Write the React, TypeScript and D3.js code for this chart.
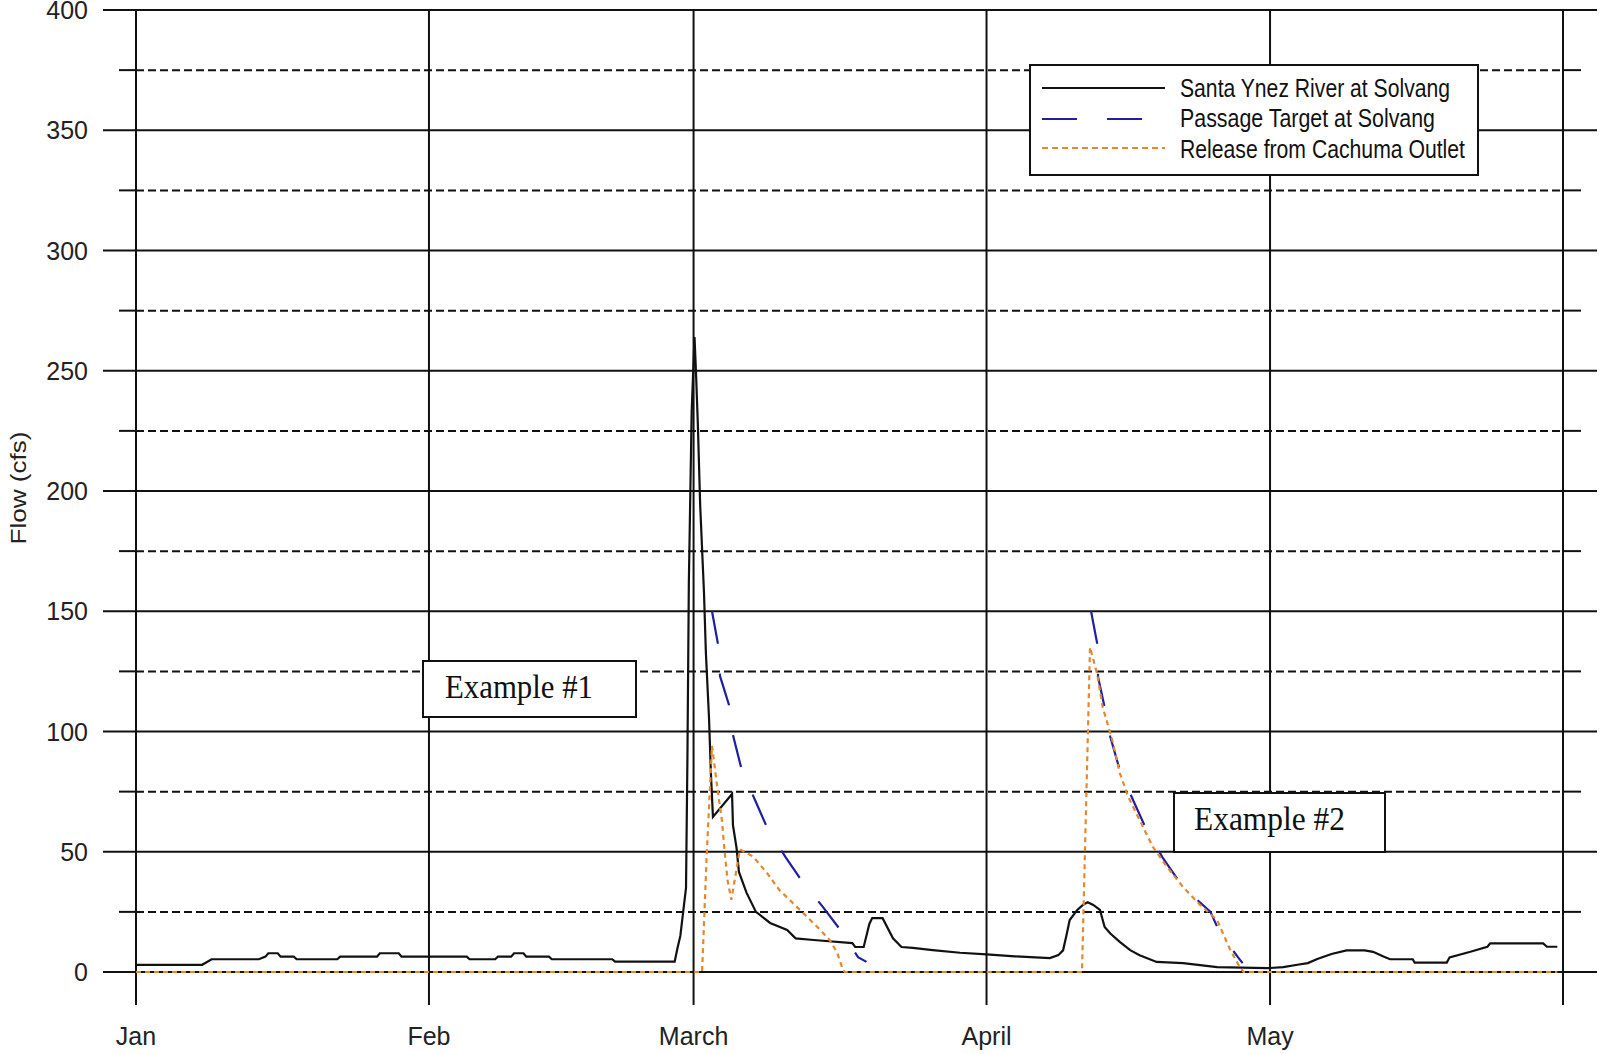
import React from 'react';
import * as d3 from 'd3';

// ---- data (day offsets from Jan 1, values in cfs) ----
const monthLabels = ['Jan', 'Feb', 'March', 'April', 'May'];
const majorTicks = [0, 50, 100, 150, 200, 250, 300, 350, 400];
const minorTicks = [25, 75, 125, 175, 225, 275, 325, 375];

const flowDays = [0, 7, 8, 13, 13.7, 14, 15, 15.3, 16.7, 17, 21.3, 21.6, 25.5, 25.8, 27.8, 28.1, 35, 35.3, 38, 38.3, 39.7, 40, 41, 41.3, 43.7, 44, 50.4, 50.7, 57.0, 57.3, 57.6, 57.9, 58.2, 58.35, 58.5, 58.8, 59.1, 59.25, 59.45, 59.7, 60.1, 60.3, 60.63, 60.84, 61.05, 63.07, 63.17, 63.55, 63.8, 64.6, 65.6, 67.1, 68.9, 69.8, 71.7, 75.8, 76.1, 77.0, 77.6, 77.9, 79.0, 80.1, 81.0, 82.2, 84.3, 87.2, 90, 93, 96.7, 97.6, 98.1, 98.5, 98.8, 99.6, 100.2, 100.7, 101.3, 102.0, 102.5, 103.1, 104.1, 105.2, 106.2, 108.0, 110.8, 114.4, 119.7, 121.4, 122.9, 124.0, 125.0, 126.5, 128.1, 130.0, 130.9, 132.0, 132.7, 135.1, 135.3, 138.7, 139.0, 141.2, 143.0, 143.3, 148.9, 149.3, 150.4];
const flowValues = [3, 3, 5.3, 5.3, 6.4, 7.8, 7.8, 6.4, 6.4, 5.3, 5.3, 6.4, 6.4, 7.8, 7.8, 6.4, 6.4, 5.3, 5.3, 6.4, 6.4, 7.8, 7.8, 6.4, 6.4, 5.3, 5.3, 4.3, 4.3, 10, 15, 25, 35, 89, 162, 233, 264, 250, 228, 194, 158, 133, 106, 82, 64.5, 74, 61, 51.5, 41.6, 33, 25, 20.4, 17.5, 14, 13.3, 12, 10.4, 10.4, 20, 22.4, 22.4, 14, 10.4, 10, 9.1, 8, 7.3, 6.5, 5.8, 7, 9, 16, 21.6, 25.8, 27.9, 29, 27.9, 25.8, 18.7, 16, 12.5, 9.1, 7, 4.2, 3.7, 2, 1.6, 2, 3, 3.7, 5.4, 7.5, 9, 9, 8.4, 6.4, 5.3, 5.3, 3.9, 3.9, 6.1, 8.4, 10.5, 11.9, 11.9, 10.5, 10.5];

const targetDays1 = [60.95, 61.6, 61.8, 62.75, 63.2, 64.1, 65.5, 66.9, 68.7, 70.6, 72.7, 74.7, 76.4, 77.3];
const targetValues1 = [150, 136, 123, 111, 98, 84, 71.5, 59, 48, 37, 27, 16.6, 6.2, 4.2];
const targetDays2 = [101.06, 101.7, 101.8, 102.5, 103.1, 104.1, 105.5, 106.8, 108.6, 110.8, 113.7, 114.7, 116.6, 117.1];
const targetValues2 = [150, 136.8, 122.7, 110, 97.7, 84, 71.5, 60.3, 47.8, 35.3, 25, 16.2, 6.2, 3.7];

const releaseDays = [0, 59.9, 60.4, 60.95, 61.5, 62.0, 62.3, 62.6, 63.0, 63.9, 65.3, 66.8, 68.1, 69.5, 71.0, 72.4, 73.4, 74.2, 74.8, 75.0, 100.1, 100.95, 101.7, 102.3, 103.3, 104.1, 105.0, 106.2, 107.6, 109.1, 110.8, 112.6, 114.4, 115.8, 116.8, 117.2, 150.4];
const releaseValues = [0, 0, 49.5, 94, 77, 63, 49.5, 38, 30, 51, 48, 41, 34, 28.7, 23, 17.5, 13.3, 8, 1, 0, 0, 135, 124, 110, 96.5, 82.7, 72.8, 63.2, 52, 43.7, 35.3, 27.9, 21.6, 9.1, 2, 0, 0];

const seriesNames = ['Santa Ynez River at Solvang', 'Passage Target at Solvang', 'Release from Cachuma Outlet'];
const exampleLabels = ['Example #1', 'Example #2'];

const BLACK = '#111';
const BLUE = '#1f1fa0';
const ORANGE = '#e4882f';

export default function App() {
  const W = 1600;
  const H = 1054;
  const t0 = Date.UTC(2001, 0, 1);
  const toDate = (d: number) => new Date(t0 + d * 86400000);
  const x = d3.scaleUtc().domain([toDate(0), new Date(Date.UTC(2001, 5, 1))]).range([136, 1563]);
  const y = d3.scaleLinear().domain([0, 400]).range([972, 10]);
  const [x0, x1] = x.range();
  const yTop = y(400);
  const yBot = y(0);
  const months = x.ticks(d3.utcMonth.every(1) as any);

  const line = d3
    .line<[number, number]>()
    .x((p) => x(toDate(p[0])))
    .y((p) => y(p[1]));
  const zip = (a: number[], b: number[]) => a.map((d, i) => [d, b[i]] as [number, number]);

  const axisFont = "'Liberation Sans', Arial, sans-serif";
  const serifFont = "'Liberation Serif', 'Times New Roman', serif";

  return (
    <svg
      width={W}
      height={H}
      style={{ position: 'absolute', left: 0, top: 0, background: '#fff' }}
    >
      <rect x={0} y={0} width={W} height={H} fill="#fff" />
      {/* minor dashed gridlines */}
      {minorTicks.map((v) => (
        <g key={'mn' + v}>
          <line x1={x0} x2={x1} y1={y(v)} y2={y(v)} stroke={BLACK} strokeWidth={2} strokeDasharray="8,4" />
          <line x1={x0 - 17} x2={x0} y1={y(v)} y2={y(v)} stroke={BLACK} strokeWidth={2} />
          <line x1={x1} x2={x1 + 18} y1={y(v)} y2={y(v)} stroke={BLACK} strokeWidth={2} />
        </g>
      ))}
      {/* major gridlines */}
      {majorTicks.map((v) => (
        <g key={'mj' + v}>
          <line x1={x0 - 33} x2={x1 + 34} y1={y(v)} y2={y(v)} stroke={BLACK} strokeWidth={2} />
          <text
            x={88}
            y={y(v)}
            dy="0.36em"
            textAnchor="end"
            fontFamily={axisFont}
            fontSize={25}
            fill="#222"
          >
            {v}
          </text>
        </g>
      ))}
      {/* vertical month lines */}
      {months.map((m, i) => (
        <g key={'m' + i}>
          <line x1={x(m)} x2={x(m)} y1={yTop} y2={yBot + 33} stroke={BLACK} strokeWidth={2} />
          {i < monthLabels.length && (
            <text
              x={x(m)}
              y={1045}
              textAnchor="middle"
              fontFamily={axisFont}
              fontSize={25}
              fill="#222"
            >
              {monthLabels[i]}
            </text>
          )}
        </g>
      ))}
      {/* y axis title */}
      <text
        transform="translate(26,488) rotate(-90)"
        textAnchor="middle"
        fontFamily={axisFont}
        fontSize={22}
        fill="#222"
        textLength={113}
        lengthAdjust="spacingAndGlyphs"
      >
        Flow (cfs)
      </text>

      {/* series */}
      <path d={line(zip(flowDays, flowValues)) || ''} fill="none" stroke={BLACK} strokeWidth={2.2} />
      <path
        d={line(zip(targetDays1, targetValues1)) || ''}
        fill="none"
        stroke={BLUE}
        strokeWidth={2.2}
        strokeDasharray="33,30"
      />
      <path
        d={line(zip(targetDays2, targetValues2)) || ''}
        fill="none"
        stroke={BLUE}
        strokeWidth={2.2}
        strokeDasharray="33,30"
      />
      <path
        d={line(zip(releaseDays, releaseValues)) || ''}
        fill="none"
        stroke={ORANGE}
        strokeWidth={2.2}
        strokeDasharray="5,4"
      />

      {/* legend */}
      <g>
        <rect x={1030} y={65} width={448} height={110} fill="#fff" stroke={BLACK} strokeWidth={2} />
        <line x1={1042} x2={1165} y1={88} y2={88} stroke={BLACK} strokeWidth={2} />
        <line x1={1042} x2={1165} y1={119} y2={119} stroke={BLUE} strokeWidth={2} strokeDasharray="35,30" />
        <line x1={1042} x2={1165} y1={148} y2={148} stroke={ORANGE} strokeWidth={2} strokeDasharray="6,4" />
        {seriesNames.map((s, i) => (
          <text
            key={s}
            x={1180}
            y={[97, 127, 158][i]}
            fontFamily={axisFont}
            fontSize={25}
            fill="#111"
            textLength={[270, 255, 285][i]}
            lengthAdjust="spacingAndGlyphs"
          >
            {s}
          </text>
        ))}
      </g>

      {/* example annotations */}
      <g>
        <rect x={423} y={661} width={213} height={56} fill="#fff" stroke={BLACK} strokeWidth={2} />
        <text
          x={445}
          y={698}
          fontFamily={serifFont}
          fontSize={33}
          fill="#111"
          textLength={148}
          lengthAdjust="spacingAndGlyphs"
        >
          {exampleLabels[0]}
        </text>
        <rect x={1174} y={793} width={211} height={59} fill="#fff" stroke={BLACK} strokeWidth={2} />
        <text
          x={1194}
          y={830}
          fontFamily={serifFont}
          fontSize={33}
          fill="#111"
          textLength={151}
          lengthAdjust="spacingAndGlyphs"
        >
          {exampleLabels[1]}
        </text>
      </g>
    </svg>
  );
}
